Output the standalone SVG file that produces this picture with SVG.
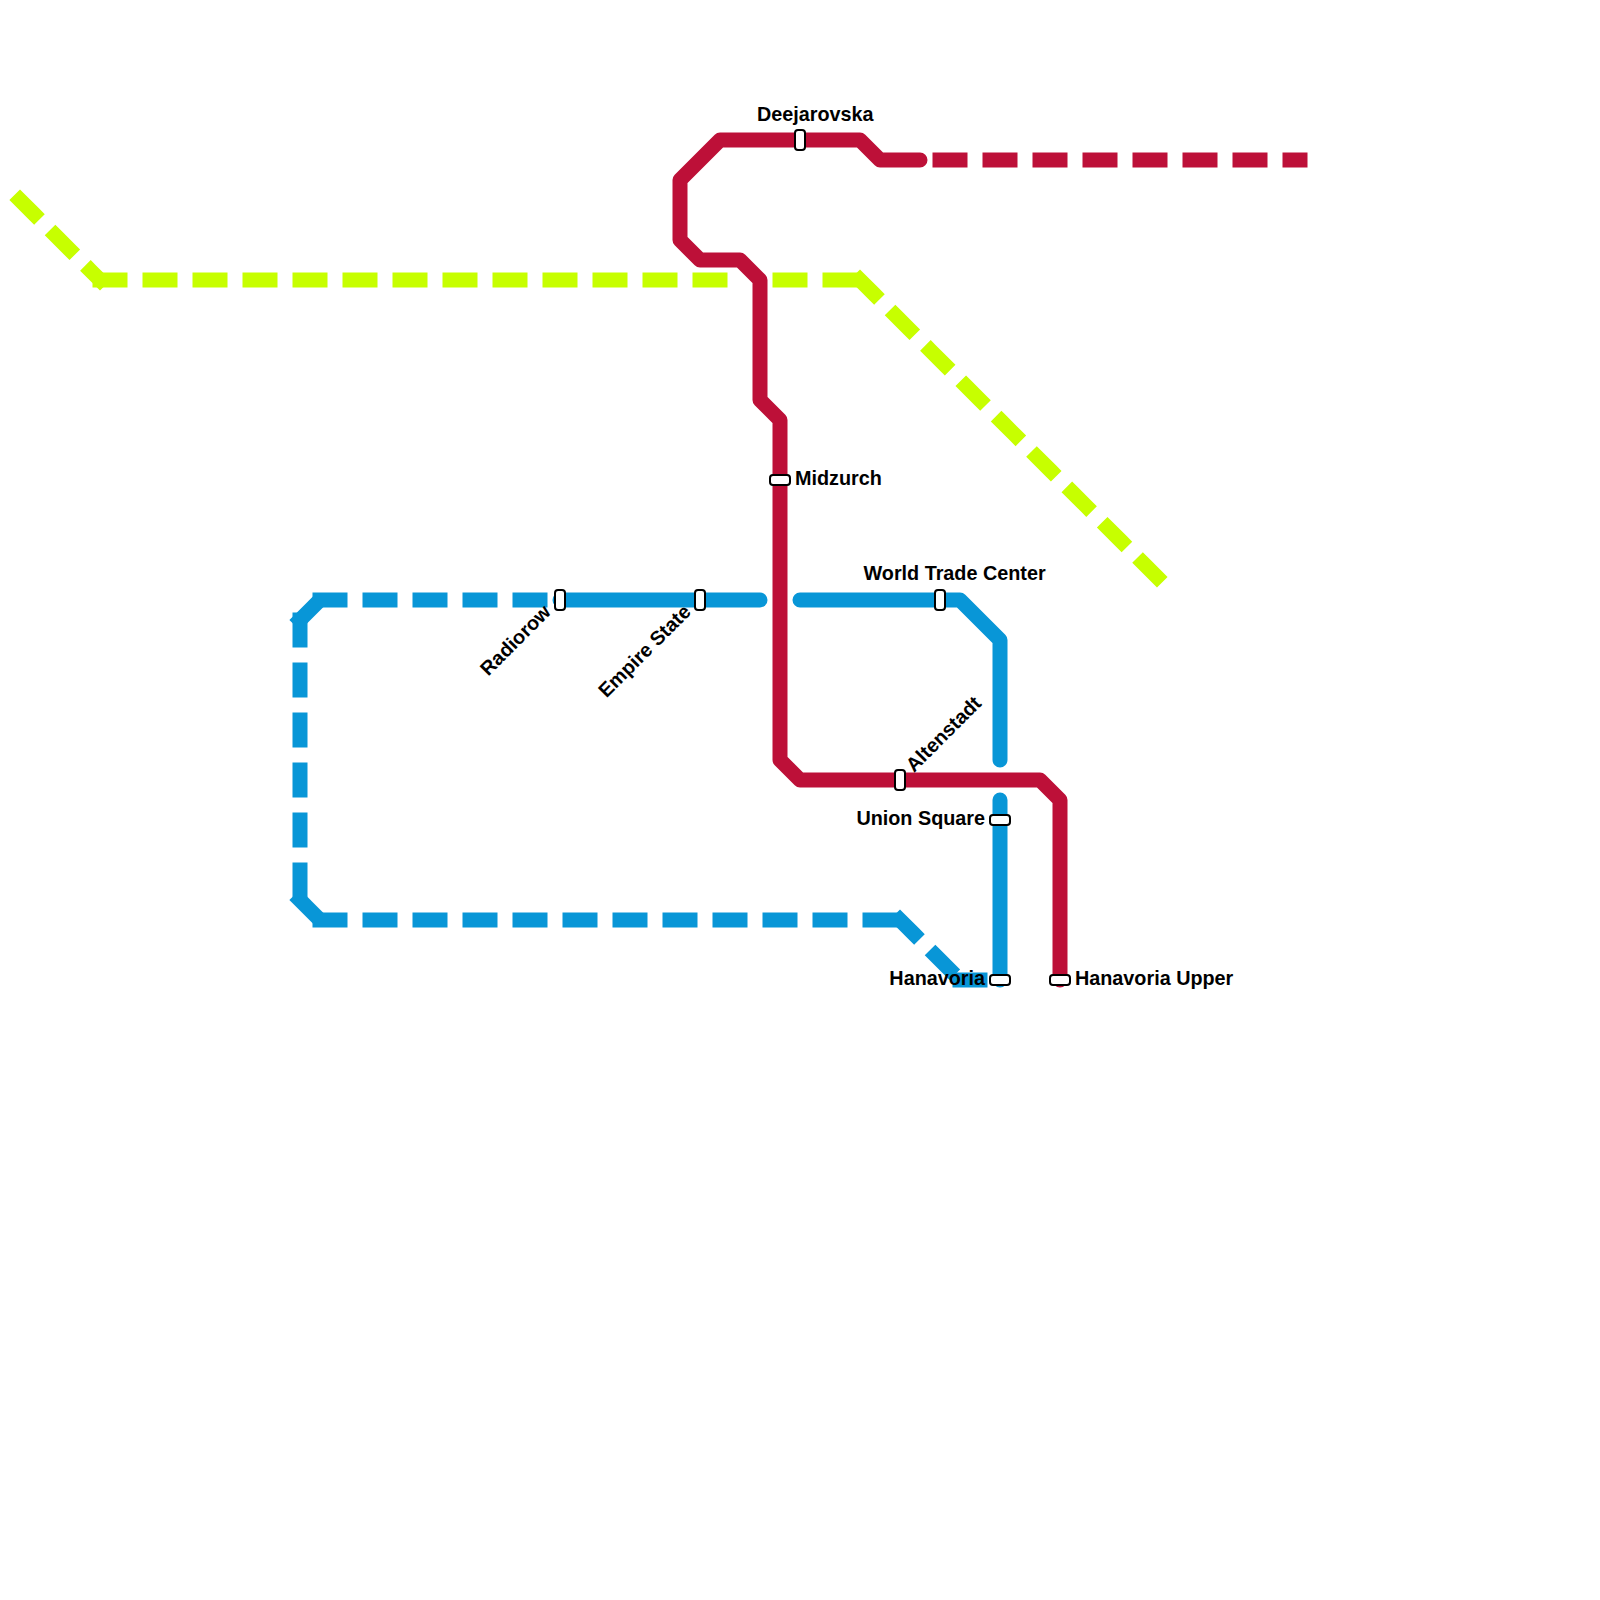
<svg xmlns="http://www.w3.org/2000/svg" width="1600" height="1600" viewBox="0 0 1600 1600">
<style>
.l{fill:none;stroke-width:15}
.s{stroke-linecap:round;stroke-linejoin:round}
.d{stroke-linecap:square;stroke-dasharray:20 30}
.r{stroke:#bd1038}.b{stroke:#0896d7}.y{stroke:#c7ff00}
.st{fill:#fff;stroke:#000;stroke-width:2}
text{font-family:"Liberation Sans",Arial,sans-serif;font-weight:bold;font-size:19.8px;fill:#000}
</style>
<rect width="1600" height="1600" fill="#fff"/>
<g id="connectors">
<path class="l d y" d="M20 200L100 280"/>
<path class="l d y" d="M100 280L720 280"/>
<path class="l d y" d="M780 280L860 280"/>
<path class="l d y" d="M860 280L1160 580"/>
<path class="l d b" d="M300 620L320 600"/>
<path class="l d b" d="M320 600L540 600"/>
<path class="l d b" d="M300 620L300 900"/>
<path class="l d b" d="M300 900L320 920"/>
<path class="l d b" d="M320 920L900 920"/>
<path class="l d b" d="M900 920L960 980"/>
<path class="l d b" d="M960 980L1000 980"/>
<path class="l s b" d="M560 600L760 600"/>
<path class="l s b" d="M800 600L960 600L1000 640L1000 760"/>
<path class="l s b" d="M1000 800L1000 980"/>
<path class="l s r" d="M1060 980L1060 800L1040 780L800 780L780 760L780 420L760 400L760 280L740 260L700 260L680 240L680 180L720 140L860 140L880 160L920 160"/>
<path class="l d r" d="M940 160L1300 160"/>
</g>
<g id="radiorow"><rect class="st" x="555" y="590" width="10" height="20" rx="3"/><text transform="translate(552,613) rotate(-45)" text-anchor="end">Radiorow</text></g>
<g id="empire-state"><rect class="st" x="695" y="590" width="10" height="20" rx="3"/><text transform="translate(692,613) rotate(-45)" text-anchor="end">Empire State</text></g>
<g id="world-trade-center"><rect class="st" x="935" y="590" width="10" height="20" rx="3"/><text x="863.5" y="580">World Trade Center</text></g>
<g id="midzurch"><rect class="st" x="770" y="475" width="20" height="10" rx="3"/><text x="795" y="485">Midzurch</text></g>
<g id="deejarovska"><rect class="st" x="795" y="130" width="10" height="20" rx="3"/><text x="757" y="121">Deejarovska</text></g>
<g id="altenstadt"><rect class="st" x="895" y="770" width="10" height="20" rx="3"/><text transform="translate(914,773) rotate(-45)">Altenstadt</text></g>
<g id="union-square"><rect class="st" x="990" y="815" width="20" height="10" rx="3"/><text x="985" y="825" text-anchor="end">Union Square</text></g>
<g id="hanavoria"><rect class="st" x="990" y="975" width="20" height="10" rx="3"/><text x="985" y="985" text-anchor="end">Hanavoria</text></g>
<g id="hanavoria-upper"><rect class="st" x="1050" y="975" width="20" height="10" rx="3"/><text x="1075" y="985">Hanavoria Upper</text></g>
</svg>
